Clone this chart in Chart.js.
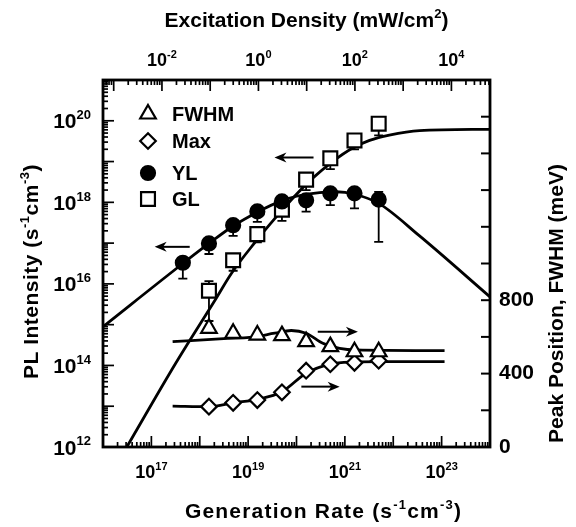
<!DOCTYPE html>
<html><head><meta charset="utf-8">
<script src="https://cdn.jsdelivr.net/npm/chart.js@4.4.1/dist/chart.umd.min.js"></script>
<style>html,body{margin:0;padding:0;background:#fff}canvas{display:block}</style>
</head><body>
<canvas id="c" width="576" height="527"></canvas>
<script>
// ---------- data ----------
const genRate      = [4.47e17, 1.55e18, 4.9e18, 1.55e19, 5.0e19, 1.58e20, 5.0e20, 1.58e21, 5.0e21];
const ylIntensity  = [3.3e16, 9.8e16, 2.75e17, 6.0e17, 1.05e18, 1.12e18, 1.66e18, 1.66e18, 1.17e18];
const ylErrLow     = [1.35e16, 5.4e16, 1.5e17, 3.3e17, 5.6e17, 5.9e17, 8.5e17, 7.1e17, 1.07e17];
const ylErrHigh    = [4.4e16, 1.3e17, 3.6e17, 8.0e17, 1.4e18, 1.5e18, 2.2e18, 2.2e18, 1.8e18];
const glGenRate    = [1.55e18, 4.9e18, 1.55e19, 5.0e19, 1.58e20, 5.0e20, 1.58e21, 5.0e21];
const glIntensity  = [6.8e15, 3.8e16, 1.66e17, 6.6e17, 3.6e18, 1.2e19, 3.3e19, 8.5e19];
const glErrLow     = [1.23e15, 2.1e16, 1.05e17, 3.5e17, 2.0e18, 6.5e18, 2.0e19, 4.4e19];
const glErrHigh    = [1.17e16, 4.5e16, 2.0e17, 8.0e17, 4.3e18, 1.45e19, 4.0e19, 1.0e20];
const fwhmMeV      = [647, 620, 610, 607, 574, 547, 519, 519];
const maxMeV       = [220, 241, 256, 298, 416, 451, 459, 470];

// fitted curves
const ylFitG   = [1e16, 4.47e17, 1.55e18, 4.9e18, 1.55e19, 5.0e19, 1.0e20, 3.0e20, 6.6e20, 1.58e21, 5.1e21, 3.5e22, 1e24];
const ylFitI   = [8.9e14, 3.16e16, 9.8e16, 2.63e17, 5.75e17, 1.1e18, 1.41e18, 1.74e18, 1.82e18, 1.58e18, 9.3e17, 1.5e17, 4.8e15];
const glFitG   = [3.1e16, 3.16e17, 2.19e18, 4.47e18, 1.35e19, 3.55e19, 1.0e20, 2.19e20, 5.6e20, 1.45e21, 3.24e21, 8.3e21, 3.5e22, 1e24];
const glFitI   = [1e12, 1.12e14, 4.47e15, 1.78e16, 1.0e17, 3.98e17, 1.58e18, 3.98e18, 1.0e19, 2.14e19, 3.31e19, 4.47e19, 5.75e19, 6.17e19];
const fwhmFitG = [2.75e17, 3.8e18, 1.07e19, 3.55e19, 7.8e19, 1.58e20, 3.5e20, 7.8e20, 1.7e21, 1.15e23];
const fwhmFitE = [574, 592, 597, 620, 635, 620, 565, 538, 529, 525];
const maxFitG  = [2.75e17, 1.58e18, 5.0e18, 1.58e19, 5.0e19, 1.58e20, 5.0e20, 1.62e21, 6.0e21, 1.15e23];
const maxFitE  = [223, 220, 241, 260, 301, 402, 452, 463, 465, 465];

// arrows: x from -> x to (head), at y on the given axis
const arrows = [
  {x1: 6.2e17, x2: 1.17e17, y: 8.1e16, axis: 'y'},
  {x1: 2.25e20, x2: 3.5e19, y: 1.26e19, axis: 'y'},
  {x1: 2.75e20, x2: 1.86e21, y: 628, axis: 'y2'},
  {x1: 1.26e20, x2: 7.8e20, y: 329, axis: 'y2'}
];

// tick values and labels ({..} = superscript)
const bottomTickValues = [1e17, 1e19, 1e21, 1e23];
const bottomTickLabels = ['10{17}', '10{19}', '10{21}', '10{23}'];
const topTickValues    = [1e-2, 1e0, 1e2, 1e4];
const topTickLabels    = ['10{-2}', '10{0}', '10{2}', '10{4}'];
const leftTickValues   = [1e12, 1e14, 1e16, 1e18, 1e20];
const leftTickLabels   = ['10{12}', '10{14}', '10{16}', '10{18}', '10{20}'];
const rightTickValues  = [0, 400, 800];
const rightTickLabels  = ['0', '400', '800'];
const rightMinorStep   = 200;

// axis titles
const titleTop    = 'Excitation Density (mW/cm{2})';
const titleBottom = 'Generation Rate (s{-1}cm{-3})';
const titleLeft   = 'PL Intensity (s{-1}cm{-3})';
const titleRight  = 'Peak Position, FWHM (meV)';

// ---------- chart ----------
const FAM = "'Liberation Sans', Arial, Helvetica, sans-serif";
const pts = (xs, ys) => xs.map((x, i) => ({x: x, y: ys[i]}));

function parseRich(str) {
  const segs = [];
  str.split(/(\{[^}]*\})/).forEach(p => {
    if (!p) return;
    if (p[0] === '{') segs.push({t: p.slice(1, -1), sup: true});
    else segs.push({t: p, sup: false});
  });
  return segs;
}
function richText(ctx, str, x, y, size, align, spacing) {
  const segs = parseRich(str);
  const supSize = Math.round(size * 0.62);
  const fB = 'bold ' + size + 'px ' + FAM, fS = 'bold ' + supSize + 'px ' + FAM;
  ctx.letterSpacing = (spacing || 0) + 'px';
  let total = 0;
  const widths = segs.map(s => { ctx.font = s.sup ? fS : fB; const w = ctx.measureText(s.t).width; total += w; return w; });
  let cx = align === 'center' ? x - total / 2 : (align === 'right' ? x - total : x);
  ctx.textAlign = 'left'; ctx.textBaseline = 'alphabetic';
  segs.forEach((s, i) => {
    ctx.font = s.sup ? fS : fB;
    ctx.fillText(s.t, cx, s.sup ? y - size * 0.43 : y);
    cx += widths[i];
  });
  ctx.letterSpacing = '0px';
}

const fitStyle = {showLine: true, pointRadius: 0, borderColor: '#000', borderWidth: 2.8,
                  cubicInterpolationMode: 'monotone', fill: false, order: 5};
const markStyle = {showLine: false, borderColor: '#000', pointBorderWidth: 2.2, order: 0};

const datasets = [
  Object.assign({label: 'YL fit', data: pts(ylFitG, ylFitI), yAxisID: 'y'}, fitStyle),
  Object.assign({label: 'GL fit', data: pts(glFitG, glFitI), yAxisID: 'y'}, fitStyle),
  Object.assign({label: 'FWHM fit', data: pts(fwhmFitG, fwhmFitE), yAxisID: 'y2'}, fitStyle),
  Object.assign({label: 'Max fit', data: pts(maxFitG, maxFitE), yAxisID: 'y2'}, fitStyle),
  Object.assign({label: 'FWHM', data: pts(glGenRate, fwhmMeV), yAxisID: 'y2', pointStyle: 'triangle',
    pointRadius: 9, backgroundColor: '#fff', legend: 0}, markStyle),
  Object.assign({label: 'Max', data: pts(glGenRate, maxMeV), yAxisID: 'y2', pointStyle: 'rectRot',
    pointRadius: 7.8, backgroundColor: '#fff', legend: 1}, markStyle),
  Object.assign({label: 'YL', data: pts(genRate, ylIntensity), yAxisID: 'y', pointStyle: 'circle',
    pointRadius: 7, backgroundColor: '#000', errLow: ylErrLow, errHigh: ylErrHigh, legend: 2}, markStyle),
  Object.assign({label: 'GL', data: pts(glGenRate, glIntensity), yAxisID: 'y', pointStyle: 'rect',
    pointRadius: 9.8, backgroundColor: '#fff', errLow: glErrLow, errHigh: glErrHigh, legend: 3}, markStyle)
];

function fixedTicks(values) { return s => { s.ticks = values.map(v => ({value: v})); }; }

const errorBarsPlugin = {
  id: 'errorBars',
  beforeDatasetsDraw(chart) {
    const ctx = chart.ctx;
    ctx.save();
    ctx.strokeStyle = '#000';
    ctx.lineWidth = 1.8;
    chart.data.datasets.forEach(ds => {
      if (!ds.errLow) return;
      const ys = chart.scales[ds.yAxisID], xs = chart.scales.x;
      ds.data.forEach((p, i) => {
        const px = xs.getPixelForValue(p.x);
        const lo = ys.getPixelForValue(ds.errLow[i]);
        const hi = ys.getPixelForValue(ds.errHigh[i]);
        ctx.beginPath();
        ctx.moveTo(px, lo); ctx.lineTo(px, hi);
        ctx.moveTo(px - 4.5, lo); ctx.lineTo(px + 4.5, lo);
        ctx.moveTo(px - 4.5, hi); ctx.lineTo(px + 4.5, hi);
        ctx.stroke();
      });
    });
    ctx.restore();
  }
};

const arrowsPlugin = {
  id: 'arrows',
  afterDatasetsDraw(chart) {
    const ctx = chart.ctx, xs = chart.scales.x;
    ctx.save();
    ctx.strokeStyle = '#000'; ctx.fillStyle = '#000'; ctx.lineWidth = 2;
    arrows.forEach(a => {
      const ys = chart.scales[a.axis];
      const x1 = xs.getPixelForValue(a.x1), x2 = xs.getPixelForValue(a.x2), y = ys.getPixelForValue(a.y);
      const dir = Math.sign(x2 - x1), hl = 12, hw = 5;
      ctx.beginPath(); ctx.moveTo(x1, y); ctx.lineTo(x2 - dir * hl * 0.6, y); ctx.stroke();
      ctx.beginPath(); ctx.moveTo(x2, y); ctx.lineTo(x2 - dir * hl, y - hw); ctx.lineTo(x2 - dir * hl * 0.7, y);
      ctx.lineTo(x2 - dir * hl, y + hw); ctx.closePath(); ctx.fill();
    });
    ctx.restore();
  }
};

const framePlugin = {
  id: 'frame',
  afterDraw(chart) {
    const {ctx, chartArea: a, scales} = chart;
    ctx.save();
    ctx.strokeStyle = '#000';
    ctx.lineWidth = 1.7;
    const logTicks = (scale, horiz, edge, dir) => {
      const lo = Math.floor(Math.log10(scale.min)), hi = Math.ceil(Math.log10(scale.max));
      for (let d = lo; d <= hi; d++) for (let m = 1; m <= 9; m++) {
        const v = m * Math.pow(10, d);
        if (v < scale.min * 0.9999 || v > scale.max * 1.0001) continue;
        const p = scale.getPixelForValue(v), len = m === 1 ? 11 : 5;
        ctx.beginPath();
        if (horiz) { ctx.moveTo(p, edge); ctx.lineTo(p, edge + dir * len); }
        else { ctx.moveTo(edge, p); ctx.lineTo(edge + dir * len, p); }
        ctx.stroke();
      }
    };
    logTicks(scales.x, true, a.bottom, -1);
    logTicks(scales.x2, true, a.top, 1);
    logTicks(scales.y, false, a.left, 1);
    const y2 = scales.y2;
    ctx.lineWidth = 2;
    for (let v = y2.min; v <= y2.max; v += rightMinorStep) {
      const p = y2.getPixelForValue(v);
      ctx.beginPath(); ctx.moveTo(a.right, p); ctx.lineTo(a.right - 9, p); ctx.stroke();
    }
    ctx.lineWidth = 2.8;
    ctx.strokeRect(a.left, a.top, a.right - a.left, a.bottom - a.top);

    ctx.fillStyle = '#000';
    // tick labels with superscripts, placed through the scales
    scales.x.ticks.forEach((t, i) => richText(ctx, bottomTickLabels[i], scales.x.getPixelForValue(t.value), a.bottom + 31, 18, 'center'));
    scales.x2.ticks.forEach((t, i) => richText(ctx, topTickLabels[i], scales.x2.getPixelForValue(t.value), a.top - 14, 18, 'center'));
    scales.y.ticks.forEach((t, i) => richText(ctx, leftTickLabels[i], a.left - 12, scales.y.getPixelForValue(t.value) + 7.5, 21, 'right'));

    // axis titles
    const cx = (a.left + a.right) / 2, cy = (a.top + a.bottom) / 2;
    richText(ctx, titleTop, cx + 10, a.top - 53, 21, 'center');
    richText(ctx, titleBottom, cx + 27, a.bottom + 71, 21, 'center', 1.2);
    ctx.save(); ctx.translate(a.left - 65, cy + 8); ctx.rotate(-Math.PI / 2); richText(ctx, titleLeft, 0, 0, 21, 'center', 0.5); ctx.restore();
    ctx.save(); ctx.translate(a.right + 73, cy + 40); ctx.rotate(-Math.PI / 2); richText(ctx, titleRight, 0, 0, 21, 'center'); ctx.restore();

    // legend
    const rows = [34, 61, 93, 119];
    chart.data.datasets.forEach(ds => {
      if (ds.legend === undefined) return;
      const y = a.top + rows[ds.legend], x = a.left + 45;
      ctx.fillStyle = ds.backgroundColor; ctx.strokeStyle = '#000'; ctx.lineWidth = 2.2;
      Chart.helpers.drawPoint(ctx, {pointStyle: ds.pointStyle, radius: ds.pointRadius, rotation: 0, borderWidth: 2.2}, x, y);
      ctx.fillStyle = '#000';
      ctx.font = 'bold 20px ' + FAM; ctx.textAlign = 'left'; ctx.textBaseline = 'middle';
      ctx.fillText(ds.label, a.left + 69, y + 1);
    });
    ctx.restore();
  }
};

const hiddenAxis = {grid: {display: false, drawTicks: false}, border: {display: false}};

new Chart(document.getElementById('c'), {
  type: 'line',
  data: {datasets: datasets},
  options: {
    responsive: false, animation: false, devicePixelRatio: 1,
    layout: {padding: 0},
    plugins: {legend: {display: false}, tooltip: {enabled: false}},
    scales: {
      x: Object.assign({type: 'logarithmic', position: 'bottom', min: 1e16, max: 1e24,
          ticks: {display: false},
          afterBuildTicks: fixedTicks(bottomTickValues), afterFit: s => { s.height = 80; }}, hiddenAxis),
      x2: Object.assign({type: 'logarithmic', position: 'top', min: Math.pow(10, -3.2), max: Math.pow(10, 4.8),
          ticks: {display: false},
          afterBuildTicks: fixedTicks(topTickValues), afterFit: s => { s.height = 80; }}, hiddenAxis),
      y: Object.assign({type: 'logarithmic', position: 'left', min: 1e12, max: 1e21,
          ticks: {display: false},
          afterBuildTicks: fixedTicks(leftTickValues), afterFit: s => { s.width = 103; }}, hiddenAxis),
      y2: Object.assign({type: 'linear', position: 'right', min: 0, max: 2000,
          ticks: {font: {family: FAM, size: 21, weight: 'bold'}, color: '#000', padding: 9, autoSkip: false,
                  callback: (v, i) => rightTickLabels[i]},
          afterBuildTicks: fixedTicks(rightTickValues), afterFit: s => { s.width = 86; }}, hiddenAxis)
    }
  },
  plugins: [errorBarsPlugin, arrowsPlugin, framePlugin]
});
</script>
</body></html>
